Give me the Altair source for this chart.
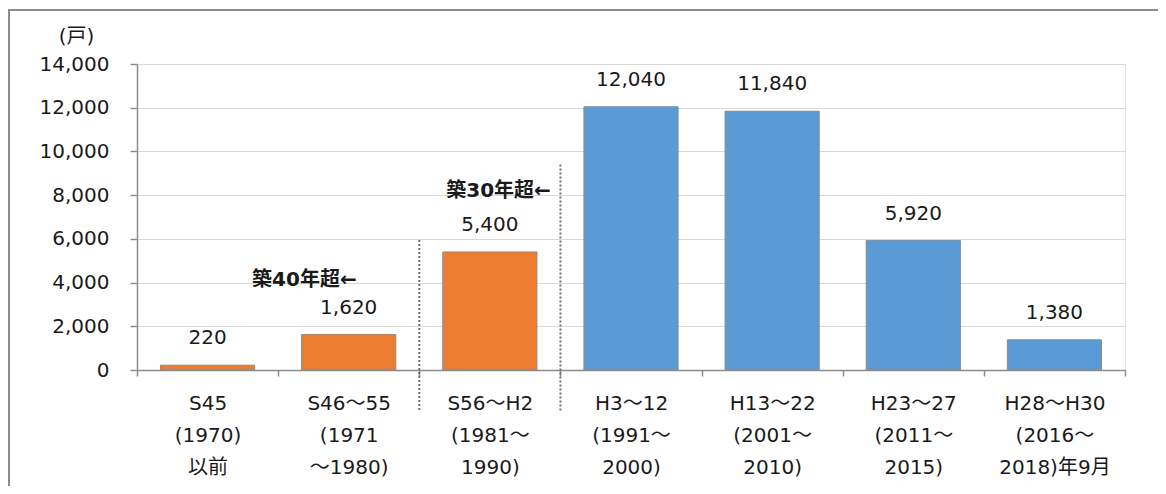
import altair as alt
import pandas as pd

# ---- data ----
categories = [
    "S45\n(1970)\n以前",
    "S46～55\n(1971\n～1980)",
    "S56～H2\n(1981～\n1990)",
    "H3～12\n(1991～\n2000)",
    "H13～22\n(2001～\n2010)",
    "H23～27\n(2011～\n2015)",
    "H28～H30\n(2016～\n2018)年9月",
]
values = [220, 1620, 5400, 12040, 11840, 5920, 1380]
groups = ["old", "old", "old", "new", "new", "new", "new"]

# dotted separators: band whose left edge they sit on, top and bottom (data units)
sep_cats = [categories[2], categories[3]]
sep_top = [5950, 9400]
sep_bottom = [-1880, -1880]

# annotations
ann_cats = [categories[1], categories[2]]
ann_y = [3843, 7929]
ann_text = ["築40年超←", "築30年超←"]

y_ticks = [0, 2000, 4000, 6000, 8000, 10000, 12000, 14000]

FONT = "DejaVu Sans, Noto Sans CJK JP"
TXT = "#1a1a1a"
AX = "#8c8c8c"

bars_df = pd.DataFrame({"cat": categories, "value": values, "grp": groups})
sep_df = pd.DataFrame({"cat": sep_cats, "top": sep_top, "bottom": sep_bottom})
ann_df = pd.DataFrame({"cat": ann_cats, "y": ann_y, "text": ann_text})

xscale = alt.Scale(domain=categories, paddingInner=0, paddingOuter=0)
yscale = alt.Scale(domain=[0, 14000], nice=False)

x_axis = alt.Axis(
    title=None,
    labelExpr="split(datum.label, '\\n')",
    labelLineHeight=32,
    labelFont=FONT,
    labelFontSize=20,
    labelColor=TXT,
    labelAngle=0,
    labelPadding=17,
    labelOverlap=False,
    tickBand="extent",
    tickSize=6,
    tickColor=AX,
    tickWidth=1.5,
    domainColor=AX,
    domainWidth=1.5,
    grid=False,
)
y_axis = alt.Axis(
    title="(戸)",
    titleAngle=0,
    titleFont=FONT,
    titleFontSize=20,
    titleFontWeight="normal",
    titleColor=TXT,
    titleX=-61,
    titleY=-28,
    titleAlign="center",
    titleBaseline="middle",
    values=y_ticks,
    format=",.0f",
    labelFont=FONT,
    labelFontSize=20,
    labelColor=TXT,
    labelPadding=21,
    tickSize=7,
    tickColor=AX,
    tickWidth=1.5,
    domainColor=AX,
    domainWidth=1.5,
    grid=True,
    gridColor="#d9d9d9",
    gridWidth=1,
)

bars = alt.Chart(bars_df).mark_bar(
    width=alt.RelativeBandSize(0.667), stroke="#8a8a8a", strokeWidth=1
).encode(
    x=alt.X("cat:N", scale=xscale, sort=categories, axis=x_axis),
    y=alt.Y("value:Q", scale=yscale, axis=y_axis),
    color=alt.Color(
        "grp:N",
        scale=alt.Scale(domain=["old", "new"], range=["#ED7D31", "#5B9BD5"]),
        legend=None,
    ),
)

labels = alt.Chart(bars_df).mark_text(
    dy=-21, baseline="alphabetic", font=FONT, fontSize=20, color=TXT
).encode(
    x=alt.X("cat:N", scale=xscale, sort=categories),
    y=alt.Y("value:Q", scale=yscale),
    text=alt.Text("value:Q", format=","),
)

seps = alt.Chart(sep_df).mark_rule(
    color="#707070", strokeWidth=2, strokeDash=[2, 2]
).encode(
    x=alt.X("cat:N", scale=xscale, sort=categories, bandPosition=0),
    y=alt.Y("top:Q", scale=yscale),
    y2="bottom:Q",
)

ann1 = alt.Chart(ann_df).transform_filter(
    alt.datum.text == ann_text[0]
).mark_text(
    align="right", baseline="alphabetic", dx=8, font=FONT, fontSize=20,
    fontWeight="bold", color=TXT
).encode(
    x=alt.X("cat:N", scale=xscale, sort=categories),
    y=alt.Y("y:Q", scale=yscale),
    text="text:N",
)

ann2 = alt.Chart(ann_df).transform_filter(
    alt.datum.text == ann_text[1]
).mark_text(
    align="right", baseline="alphabetic", dx=61, font=FONT, fontSize=20,
    fontWeight="bold", color=TXT
).encode(
    x=alt.X("cat:N", scale=xscale, sort=categories),
    y=alt.Y("y:Q", scale=yscale),
    text="text:N",
)

frame = alt.Chart(pd.DataFrame({"k": [0]})).mark_rect(
    fillOpacity=0, stroke="#8c8c8c", strokeWidth=2
).encode(
    x=alt.value(-128), x2=alt.value(1100), y=alt.value(-54), y2=alt.value(700)
)

chart = alt.layer(frame, bars, labels, seps, ann1, ann2).properties(
    width=988,
    height=306,
    autosize=alt.AutoSizeParams(type="none"),
    padding={"left": 129, "top": 56, "right": 33, "bottom": 116},
).configure_view(stroke="#d9d9d9", strokeWidth=1).configure(background="white")

chart.save("out.html", embed_options={"renderer": "svg", "actions": False})
